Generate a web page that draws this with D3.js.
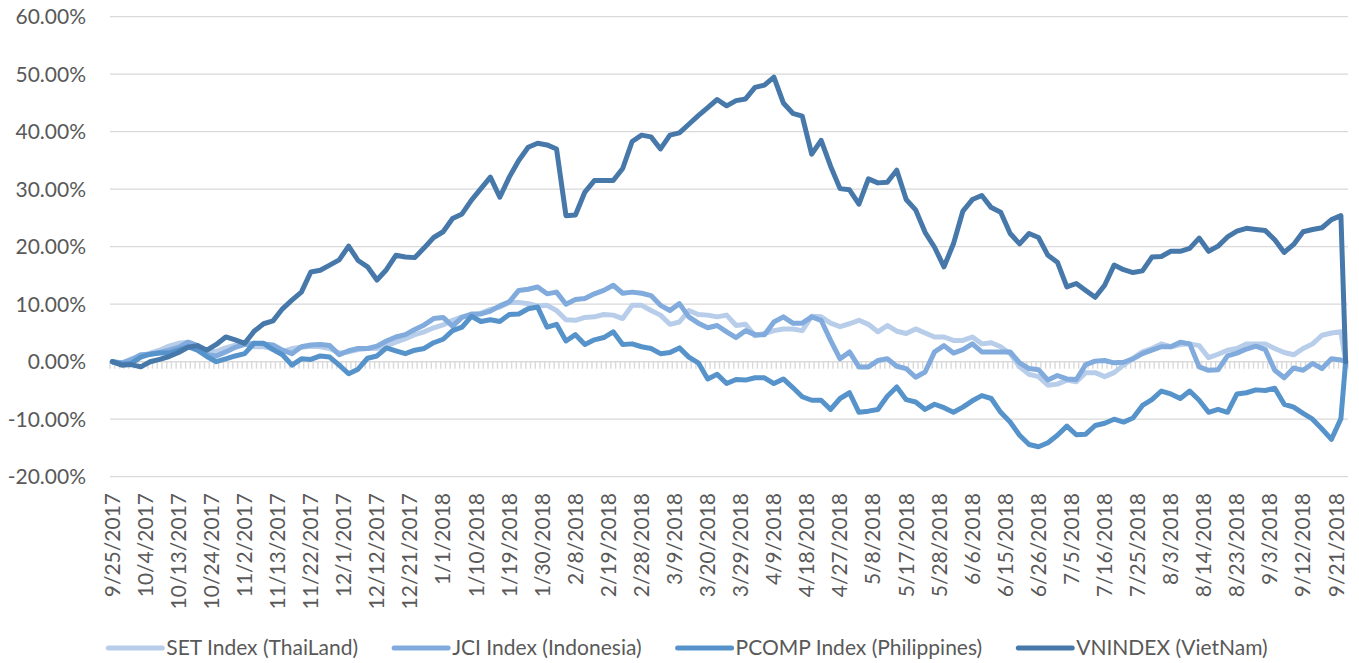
<!DOCTYPE html>
<html>
<head>
<meta charset="utf-8">
<script src="https://cdn.jsdelivr.net/npm/d3@7"></script>
<style>
  body { margin: 0; background: #fff; }
  svg { display: block; }
  text { font-family: Lato, "Open Sans", sans-serif; fill: #595959; }
</style>
</head>
<body>
<div id="chart"></div>
<script>
// trading days (weekdays) from 9/25/2017 to 9/25/2018, a label every 7th day
const firstDay = new Date(2017, 8, 25);
const lastDay = new Date(2018, 8, 25);
const labelEvery = 7;

const seriesNames = ["SET Index (ThaiLand)", "JCI Index (Indonesia)", "PCOMP Index (Philippines)", "VNINDEX (VietNam)"];
const seriesColors = ["#b7cde9", "#80abdc", "#5793cb", "#4778aa"];

const yTicks = [-20, -10, 0, 10, 20, 30, 40, 50, 60];
const yTickLabels = ["-20.00%", "-10.00%", "0.00%", "10.00%", "20.00%", "30.00%", "40.00%", "50.00%", "60.00%"];

// values (%) read every 2nd trading day, plus the last day
const setIndex = [
  0, -0.3, 0.5, 1.0, 1.5, 2.0, 2.7, 3.2, 3.4, 2.8,
  1.7, 1.8, 2.4, 2.9, 3.2, 2.6, 2.6, 2.3, 1.7, 2.3,
  2.5, 2.7, 2.6, 2.3, 1.5, 1.7, 2.1, 2.3, 2.3, 2.8,
  3.4, 4.0, 4.7, 5.2, 5.9, 6.4, 7.2, 7.8, 8.1, 8.4,
  9.1, 9.5, 10.3, 10.3, 10.1, 9.7, 9.8, 8.9, 7.3, 7.2,
  7.7, 7.8, 8.2, 8.1, 7.5, 9.8, 9.8, 8.9, 8.1, 6.5,
  6.9, 8.9, 8.2, 8.1, 7.8, 8.1, 6.3, 6.5, 4.5, 4.9,
  5.4, 5.7, 5.7, 5.4, 7.9, 7.8, 6.7, 6.1, 6.6, 7.2,
  6.5, 5.2, 6.3, 5.3, 4.9, 5.7, 5.0, 4.3, 4.3, 3.7,
  3.7, 4.3, 3.1, 3.3, 2.6, 1.4, -0.9, -2.2, -2.6, -4.1,
  -3.9, -3.2, -3.5, -1.9, -1.9, -2.6, -1.9, -0.6, 0.6, 1.7,
  2.3, 3.1, 2.6, 3.0, 3.1, 2.8, 0.7, 1.3, 2.0, 2.3,
  3.1, 3.1, 3.1, 2.3, 1.6, 1.2, 2.3, 3.1, 4.6, 5.0,
  5.2, 0
];
const jciIndex = [
  0, -0.2, 0.3, 1.2, 1.3, 1.6, 2.0, 2.5, 3.4, 2.8,
  1.2, 1.0, 1.7, 2.5, 3.0, 3.2, 3.1, 2.9, 2.0, 1.4,
  2.6, 2.9, 3.0, 2.8, 1.2, 1.9, 2.3, 2.3, 2.7, 3.6,
  4.3, 4.7, 5.6, 6.4, 7.5, 7.7, 6.2, 7.7, 8.3, 8.3,
  8.8, 9.7, 10.4, 12.4, 12.6, 13.0, 11.8, 12.1, 10.0, 10.8,
  11.0, 11.8, 12.4, 13.3, 11.9, 12.1, 11.9, 11.5, 9.8, 8.9,
  10.1, 7.8, 6.7, 5.9, 6.3, 5.2, 4.2, 5.4, 4.7, 4.7,
  6.9, 7.8, 6.7, 6.7, 7.8, 7.2, 3.7, 0.5, 1.7, -0.9,
  -0.9, 0.2, 0.5, -0.8, -1.2, -2.7, -1.8, 1.7, 2.8, 1.5,
  2.1, 3.1, 1.7, 1.7, 1.7, 1.7, -0.2, -1.2, -1.4, -3.2,
  -2.4, -3.0, -3.1, -0.5, 0.1, 0.2, -0.2, -0.1, 0.5, 1.4,
  2.0, 2.6, 2.6, 3.4, 3.1, -0.9, -1.5, -1.4, 1.0, 1.5,
  2.2, 2.7, 2.1, -1.5, -2.8, -1.1, -1.5, -0.3, -1.2, 0.5,
  0.3, 0
];
const pcompIndex = [
  0, -0.4, -0.3, 0.8, 1.3, 1.5, 1.5, 2.0, 2.6, 2.0,
  0.9, 0.0, 0.5, 1.0, 1.4, 3.2, 3.2, 2.1, 1.2, -0.6,
  0.5, 0.4, 1.0, 0.8, -0.6, -2.1, -1.3, 0.6, 1.0, 2.4,
  1.9, 1.4, 2.0, 2.3, 3.3, 3.9, 5.4, 6.0, 7.9, 7.0,
  7.3, 7.0, 8.2, 8.3, 9.2, 9.5, 6.0, 6.5, 3.6, 4.7,
  3.0, 3.8, 4.2, 5.2, 3.0, 3.1, 2.6, 2.3, 1.4, 1.6,
  2.4, 0.8, -0.2, -3.0, -2.2, -3.8, -3.1, -3.2, -2.8, -2.8,
  -3.8, -3.0, -4.5, -6.1, -6.7, -6.7, -8.3, -6.4, -5.4, -8.8,
  -8.6, -8.3, -6.0, -4.4, -6.6, -7.0, -8.3, -7.4, -8.0, -8.8,
  -7.9, -6.8, -5.9, -6.4, -8.8, -10.5, -12.8, -14.4, -14.8, -14.1,
  -12.8, -11.2, -12.7, -12.6, -11.1, -10.7, -10.0, -10.5, -9.8, -7.6,
  -6.6, -5.1, -5.6, -6.4, -5.1, -6.7, -8.8, -8.3, -8.8, -5.6,
  -5.4, -4.9, -5.0, -4.6, -7.4, -7.9, -9.0, -10.0, -11.7, -13.5,
  -9.9, 0
];
const vnIndex = [
  0, -0.6, -0.5, -0.9, 0.0, 0.4, 0.9, 1.6, 2.5, 2.8,
  2.0, 3.0, 4.3, 3.8, 3.2, 5.3, 6.6, 7.1, 9.2, 10.7,
  12.1, 15.6, 15.9, 16.8, 17.7, 20.1, 17.6, 16.5, 14.2, 16.0,
  18.5, 18.2, 18.1, 19.8, 21.6, 22.6, 24.9, 25.7, 28.1, 30.1,
  32.1, 28.6, 32.1, 35.0, 37.3, 38.0, 37.7, 37.0, 25.4, 25.5,
  29.5, 31.5, 31.5, 31.5, 33.6, 38.3, 39.4, 39.1, 37.0, 39.4,
  39.8, 41.3, 42.8, 44.2, 45.6, 44.5, 45.4, 45.7, 47.7, 48.1,
  49.5, 45.0, 43.2, 42.7, 36.1, 38.5, 34.0, 30.1, 29.9, 27.4,
  31.8, 31.1, 31.2, 33.3, 28.2, 26.4, 22.5, 19.9, 16.5, 20.5,
  26.2, 28.2, 28.9, 26.8, 26.0, 22.3, 20.5, 22.3, 21.6, 18.5,
  17.3, 13.0, 13.6, 12.4, 11.2, 13.3, 16.8, 16.0, 15.5, 15.8,
  18.2, 18.3, 19.2, 19.2, 19.7, 21.5, 19.2, 20.1, 21.7, 22.7,
  23.2, 23.0, 22.8, 21.2, 19.0, 20.4, 22.6, 23.0, 23.3, 24.7,
  25.4, 0
];

const width = 1359;
const height = 663;
const plot = { left: 110, right: 1348, top: 16.7, bottom: 476.7 };

const categories = d3.timeDay.range(firstDay, d3.timeDay.offset(lastDay, 1))
  .filter(d => d.getDay() !== 0 && d.getDay() !== 6);
const fmtDate = d3.timeFormat("%-m/%-d/%Y");
const sampleIdx = d3.range(0, categories.length - 1, 2).concat([categories.length - 1]);

const allSeries = [setIndex, jciIndex, pcompIndex, vnIndex].map((vals, k) => ({
  name: seriesNames[k],
  color: seriesColors[k],
  points: vals.map((v, j) => ({ i: sampleIdx[j], v }))
}));

const svg = d3.select("#chart").append("svg")
  .attr("width", width)
  .attr("height", height);

const x = d3.scaleBand()
  .domain(d3.range(categories.length))
  .range([plot.left, plot.right])
  .paddingInner(0)
  .paddingOuter(0);
const xc = i => x(i) + x.bandwidth() / 2;

const y = d3.scaleLinear()
  .domain([-20, 60])
  .range([plot.bottom, plot.top]);

// gridlines
svg.append("g")
  .selectAll("line")
  .data(yTicks)
  .join("line")
  .attr("x1", plot.left)
  .attr("x2", plot.right)
  .attr("y1", d => y(d))
  .attr("y2", d => y(d))
  .attr("stroke", "#d9d9d9")
  .attr("stroke-width", 1.2);

// y labels
svg.append("g")
  .selectAll("text")
  .data(yTicks)
  .join("text")
  .attr("x", 86)
  .attr("y", d => y(d))
  .attr("dy", "0.35em")
  .attr("text-anchor", "end")
  .style("font-size", "21px")
  .text((d, k) => yTickLabels[k]);

// category axis crossing at zero, tick mark at each category boundary
const y0 = y(0);
const axis = svg.append("g");
axis.append("line")
  .attr("x1", plot.left)
  .attr("x2", plot.right)
  .attr("y1", y0)
  .attr("y2", y0)
  .attr("stroke", "#d9d9d9")
  .attr("stroke-width", 1.3);
axis.selectAll("line.tick")
  .data(d3.range(categories.length + 1))
  .join("line")
  .attr("class", "tick")
  .attr("x1", i => plot.left + i * x.bandwidth())
  .attr("x2", i => plot.left + i * x.bandwidth())
  .attr("y1", y0)
  .attr("y2", y0 + 7)
  .attr("stroke", "#d9d9d9")
  .attr("stroke-width", 1.4);

// x labels (rotated)
svg.append("g")
  .selectAll("text")
  .data(d3.range(0, categories.length, labelEvery))
  .join("text")
  .attr("transform", i => `translate(${xc(i)},493) rotate(-90)`)
  .attr("dy", "0.35em")
  .attr("text-anchor", "end")
  .style("font-size", "21px")
  .text(i => fmtDate(categories[i]));

// series lines
const line = d3.line()
  .x(d => xc(d.i))
  .y(d => y(d.v));

svg.append("g")
  .selectAll("path")
  .data(allSeries)
  .join("path")
  .attr("d", s => line(s.points))
  .attr("fill", "none")
  .attr("stroke", s => s.color)
  .attr("stroke-width", 5)
  .attr("stroke-linejoin", "round")
  .attr("stroke-linecap", "round");

// legend
const legend = svg.append("g");
const items = legend.selectAll("g")
  .data(allSeries)
  .join("g");
items.append("line")
  .attr("x1", 0)
  .attr("x2", 54)
  .attr("y1", 0)
  .attr("y2", 0)
  .attr("stroke", s => s.color)
  .attr("stroke-width", 5)
  .attr("stroke-linecap", "round");
items.append("text")
  .attr("x", 58)
  .attr("dy", "0.35em")
  .style("font-size", "21px")
  .text(s => s.name);

const itemWidths = [];
items.each(function () {
  itemWidths.push(58 + d3.select(this).select("text").node().getComputedTextLength());
});
const gap = 36;
const total = d3.sum(itemWidths) + gap * (itemWidths.length - 1);
let cursor = 688 - total / 2;
items.attr("transform", (s, k) => {
  const tx = cursor;
  cursor += itemWidths[k] + gap;
  return `translate(${tx},648)`;
});
</script>
</body>
</html>
